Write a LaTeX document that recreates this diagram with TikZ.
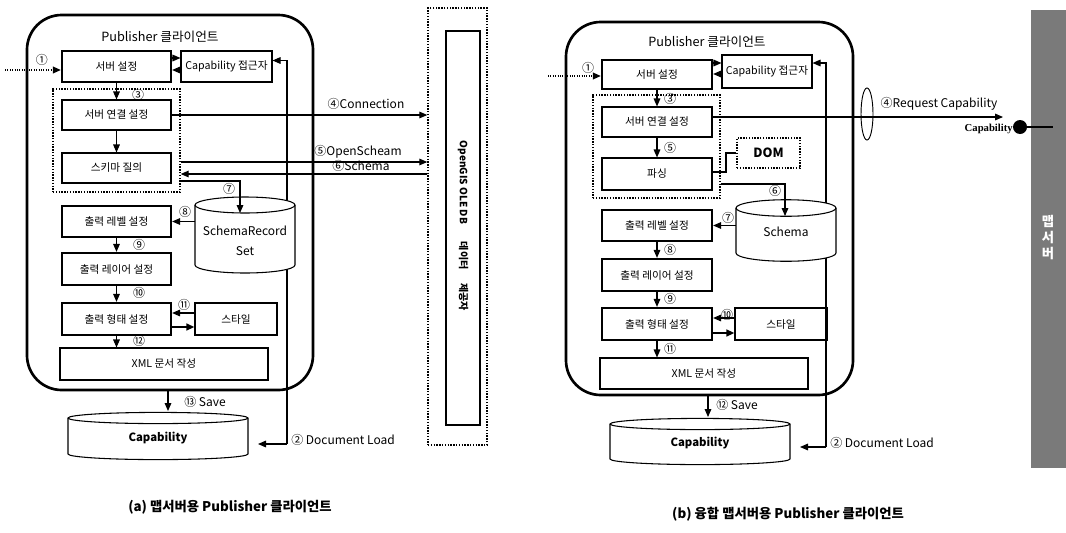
\documentclass[tikz,border=0pt]{standalone}
\usepackage{fontspec}
\setmainfont{Noto Sans CJK KR}
\newfontfamily\serifb{Liberation Serif}
\usetikzlibrary{arrows.meta,calc}
\begin{document}
\begin{tikzpicture}[x=0.75pt,y=-0.75pt,
  wh/.style 2 args={minimum width=#1*0.75pt, minimum height=#2*0.75pt},
  box/.style={draw, fill=white, inner sep=0pt, line width=0.8pt, font=\fontsize{8}{9}\selectfont},
  tbox/.style={box, line width=1.7pt},
  pub/.style={draw, line width=2pt, rounded corners=26pt, inner sep=0pt},
  grp/.style={draw, densely dotted, line width=1.1pt, inner sep=0pt},
  arr/.style={-{Triangle[length=6pt,width=5pt]}, line width=0.8pt},
  tarr/.style={arr, line width=1.6pt},
  darr/.style={arr, densely dotted, line width=1.2pt},
  num/.style={font=\fontsize{9}{9}\selectfont, inner sep=0pt},
  lbl/.style={font=\fontsize{9}{10}\selectfont, inner sep=0pt},
  dbtxt/.style={font=\fontsize{8.5}{10}\selectfont\bfseries, inner sep=0pt},
  cyl/.style={line width=0.8pt, fill=white},
  ttl/.style={font=\fontsize{9.5}{10}\selectfont, inner sep=0pt},
  captxt/.style={font=\fontsize{10}{11}\selectfont\bfseries, inner sep=0pt},
]
\useasboundingbox (0,0) rectangle (1066,532);

% ===================== (a) =====================
\node[pub, wh={286}{375}] (pubA) at (170,202.5) {};
\node[ttl] (titA) at (160,37) {Publisher 클라이언트};

\node[grp, wh={59}{437}] (oleOut) at (457.5,226.5) {};
\node[draw, line width=0.8pt, inner sep=0pt, wh={34}{394}] (oleIn) at (463,228) {};
\node[rotate=-90, font=\fontsize{7.5}{9}\selectfont\bfseries, inner sep=0pt] (oleT) at (463,226) {OpenGIS OLE DB\hspace{1.8em}데이터\hspace{1.4em}제공자};

\node[grp, wh={127}{103}] (dotA) at (116.5,140.5) {};
\node[tbox, wh={109}{31}] (srvA) at (116.5,66.5) {서버 설정};
\node[box, wh={91}{31}] (capA) at (226.5,66.5) {Capability 접근자};
\node[box, wh={109}{30}] (connA) at (116.5,115) {서버 연결 설정};
\node[box, wh={109}{30}] (qryA) at (116.5,168) {스키마 질의};
\node[tbox, wh={109}{31}] (lvlA) at (116.5,221.5) {출력 레벨 설정};
\node[tbox, wh={109}{32}] (layA) at (116.5,269) {출력 레이어 설정};
\node[tbox, wh={109}{32}] (frmA) at (116.5,319) {출력 형태 설정};
\node[box, wh={82}{32}] (styA) at (236,319) {스타일};
\node[box, wh={208}{32}] (xmlA) at (164,364) {XML 문서 작성};

% document load (behind cylinder)
\coordinate (dlA) at (287,444);
\coordinate (dlAend) at (258,444);
\coordinate (uA) at (0,58);
\coordinate (lA) at (0,70);
\draw[arr] (dlA) |- ($(capA.east)+(0,-6)$);
\draw[arr] (dlA) -- (dlAend);
\node[lbl, anchor=west] (dlLblA) at (291,440) {② Document Load};

% cylinders (a)
\draw[cyl] (195,205) -- (195,265) arc[start angle=180, end angle=360, x radius=37.5pt, y radius=6pt] -- (295,205) arc[start angle=0, end angle=180, x radius=37.5pt, y radius=6pt] -- cycle;
\draw[line width=0.8pt] (195,205) arc[start angle=180, end angle=360, x radius=37.5pt, y radius=6pt];
\node[inner sep=0pt, wh={100}{60}, align=center, font=\fontsize{9}{15}\selectfont] (srsA) at (245,241) {SchemaRecord\\Set};

\draw[cyl] (68,418) -- (68,454) arc[start angle=180, end angle=360, x radius=67.5pt, y radius=4.2pt] -- (248,418) arc[start angle=0, end angle=180, x radius=67.5pt, y radius=4.2pt] -- cycle;
\draw[line width=0.8pt] (68,418) arc[start angle=180, end angle=360, x radius=67.5pt, y radius=4.2pt];
\node[dbtxt] (capdbA) at (158,438) {Capability};

% arrows (a)
\coordinate (inA) at (5,70);
\draw[darr] (inA) -- (inA -| srvA.west);
\node[num] at (42,60) {①};
\draw[arr] (uA -| srvA.east) -- (uA -| capA.west);
\draw[arr] (lA -| capA.west) -- (lA -| srvA.east);
\draw[arr] (srvA.south) -- (connA.north);
\node[num] at (138,95) {③};
\draw[arr] (connA.south) -- (qryA.north);
\draw[arr] (connA.east) -- (connA.east -| oleOut.west);
\node[lbl] at (366,104) {④Connection};
\coordinate (y5a) at (0,162);
\coordinate (y6a) at (0,174);
\coordinate (y7a) at (0,181);
\coordinate (srsTopA) at (240,213);
\draw[arr] (y5a -| dotA.east) -- (y5a -| oleOut.west);
\node[lbl] at (358,152) {⑤OpenScheam};
\draw[arr] (y6a -| oleOut.west) -- (y6a -| dotA.east);
\node[lbl] at (361,166) {⑥Schema};
\draw[arr] (y7a -| dotA.east) -| (srsTopA);
\node[num] at (229,189) {⑦};
\draw[arr] (lvlA.east -| srsA.west) -- (lvlA.east);
\node[num] at (185,212) {⑧};
\draw[arr] (lvlA.south) -- (layA.north);
\node[num] at (139,245) {⑨};
\draw[arr] (layA.south) -- (frmA.north);
\node[num] at (139,293) {⑩};
\draw[arr] ($(styA.west)+(0,-6)$) -- ($(frmA.east)+(0,-6)$);
\node[num] at (184,305) {⑪};
\draw[tarr] ($(frmA.east)+(0,8)$) -- ($(styA.west)+(0,8)$);
\draw[arr] (frmA.south) -- (frmA.south |- xmlA.north);
\node[num] at (139,341) {⑫};
\coordinate (sA) at (168,390);
\coordinate (sAend) at (168,411);
\draw[arr] (sA) -- (sAend);
\node[lbl, anchor=west] at (184,402) {⑬ Save};

\node[captxt] (capnA) at (230,507) {(a) 맵서버용 Publisher 클라이언트};

% ===================== (b) =====================
\node[pub, wh={287}{373}] (pubB) at (709.5,208.5) {};
\node[ttl] (titB) at (707,42) {Publisher 클라이언트};

\fill[black!52] (1031,10) rectangle (1066,468);
\node[font=\fontsize{10}{12}\selectfont\bfseries, text=white, align=center, inner sep=0pt] (msrv) at (1048,238) {맵\\서\\버};

\node[grp, wh={127}{103}] (dotB) at (656.5,146.5) {};
\node[tbox, wh={110}{29}] (srvB) at (657,74.5) {서버 설정};
\node[box, wh={90}{33}] (capB) at (767,71.5) {Capability 접근자};
\node[box, wh={110}{30}] (connB) at (657,122) {서버 연결 설정};
\node[box, wh={110}{32}] (prsB) at (657,174) {파싱};
\node[grp, wh={63}{30}, font=\fontsize{9.5}{10}\selectfont\bfseries] (domB) at (768.5,153) {DOM};
\node[tbox, wh={110}{31}] (lvlB) at (657,225.5) {출력 레벨 설정};
\node[tbox, wh={110}{32}] (layB) at (657,275) {출력 레이어 설정};
\node[tbox, wh={110}{32}] (frmB) at (657,324) {출력 형태 설정};
\node[box, wh={92}{32}] (styB) at (781,324) {스타일};
\node[box, wh={208}{31}] (xmlB) at (704,373.5) {XML 문서 작성};

\coordinate (uB) at (0,63);
\coordinate (lB) at (0,74);
\coordinate (dlB) at (826,447);
\coordinate (dlBend) at (800,447);
\draw[arr] (dlB) |- (capB.east |- uB);
\draw[arr] (dlB) -- (dlBend);
\node[lbl, anchor=west] (dlLblB) at (830,443) {② Document Load};

% cylinders (b)
\draw[cyl] (736,208) -- (736,253) arc[start angle=180, end angle=360, x radius=37.5pt, y radius=6.2pt] -- (836,208) arc[start angle=0, end angle=180, x radius=37.5pt, y radius=6.2pt] -- cycle;
\draw[line width=0.8pt] (736,208) arc[start angle=180, end angle=360, x radius=37.5pt, y radius=6.2pt];
\node[inner sep=0pt, wh={100}{45}, font=\fontsize{9}{10}\selectfont] (schB) at (786,232) {Schema};

\draw[cyl] (610,424) -- (610,459) arc[start angle=180, end angle=360, x radius=67.5pt, y radius=4.2pt] -- (790,424) arc[start angle=0, end angle=180, x radius=67.5pt, y radius=4.2pt] -- cycle;
\draw[line width=0.8pt] (610,424) arc[start angle=180, end angle=360, x radius=67.5pt, y radius=4.2pt];
\node[dbtxt] (capdbB) at (700,443) {Capability};

% arrows (b)
\coordinate (inB) at (548,76);
\draw[darr] (inB) -- (inB -| srvB.west);
\node[num] at (588,68) {①};
\draw[arr] (uB -| srvB.east) -- (uB -| capB.west);
\draw[arr] (lB -| capB.west) -- (lB -| srvB.east);
\draw[arr] (srvB.south) -- (connB.north);
\node[num] at (670,99) {③};
\draw[arr] (connB.south) -- (prsB.north);
\node[num] at (670,148) {⑤};
\coordinate (y4b) at (0,117);
\coordinate (reqEnd) at (1003,117);
\draw[arr] (y4b -| connB.east) -- (reqEnd);
\node[lbl] at (939,104) {④Request Capability};
\draw[line width=0.7pt] (867,114) ellipse[x radius=4.5pt, y radius=19.5pt];
\node[circle, fill=black, inner sep=0pt, minimum size=10.5pt] (lolB) at (1020,127) {};
\coordinate (lolEnd) at (1053,127);
\draw[line width=1.5pt] (lolB.east) -- (lolEnd);
\node[font=\serifb\bfseries\fontsize{8}{9}\selectfont, anchor=east, inner sep=0pt] at (1013,129) {Capability};
\coordinate (y172) at (0,172);
\draw[line width=0.8pt] (y172 -| prsB.east) -- (726,172) -- (726,153) -- (domB.west);
\coordinate (y6b) at (0,184);
\coordinate (schTopB) at (785,216);
\draw[arr] (y6b -| dotB.east) -| (schTopB);
\node[num] at (775,191) {⑥};
\draw[arr] (lvlB.east -| schB.west) -- (lvlB.east);
\node[num] at (728,218) {⑦};
\draw[arr] (lvlB.south) -- (layB.north);
\node[num] at (670,250) {⑧};
\draw[arr] (layB.south) -- (frmB.north);
\node[num] at (670,299) {⑨};
\draw[arr] ($(styB.west)+(0,-6)$) -- ($(frmB.east)+(0,-6)$);
\node[num] at (727,315) {⑩};
\draw[tarr] ($(frmB.east)+(0,9)$) -- ($(styB.west)+(0,9)$);
\draw[arr] (frmB.south) -- (frmB.south |- xmlB.north);
\node[num] at (670,349) {⑪};
\coordinate (sB) at (708,395);
\coordinate (sBend) at (708,417);
\draw[arr] (sB) -- (sBend);
\node[lbl, anchor=west] at (716,405) {⑫ Save};

\node[captxt] (capnB) at (788,514) {(b) 융합 맵서버용 Publisher 클라이언트};
\end{tikzpicture}
\end{document}
